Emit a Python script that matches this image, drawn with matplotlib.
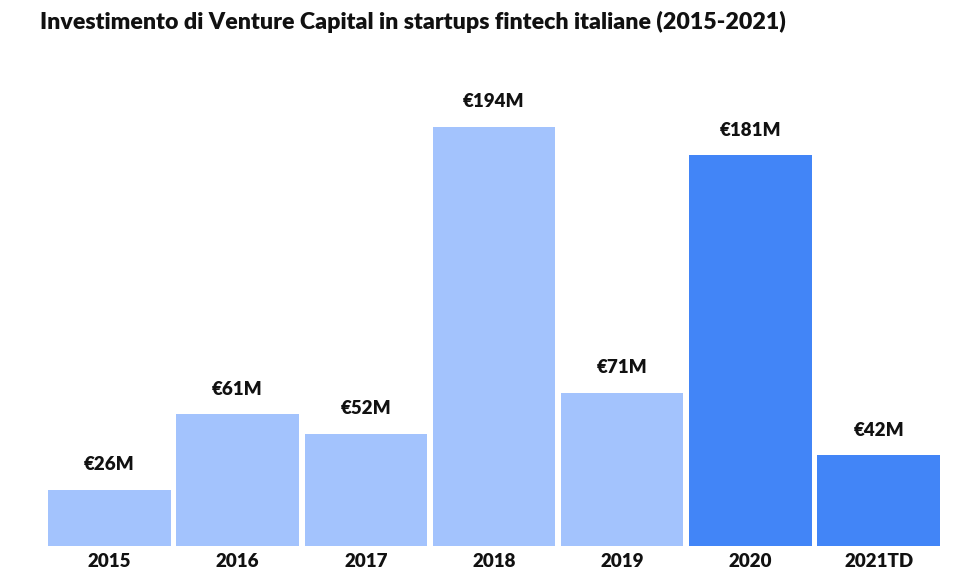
import matplotlib.pyplot as plt

anni = ["2015", "2016", "2017", "2018", "2019", "2020", "2021TD"]
valori = [26, 61, 52, 194, 71, 181, 42]
etichette = ["€26M", "€61M", "€52M", "€194M", "€71M", "€181M", "€42M"]
colori = ["#a3c3fd"] * 5 + ["#4285f7"] * 2

plt.rcParams["font.family"] = ["Lato", "DejaVu Sans"]
plt.rcParams["font.weight"] = "bold"

fig = plt.figure(figsize=(9.6, 5.82), dpi=100)
ax = fig.add_axes([48 / 960, 1 - 546 / 582, 892 / 960, 486 / 582])

x = range(len(anni))
ax.bar(x, valori, width=0.955, color=colori)
for i, v in enumerate(valori):
    ax.annotate(etichette[i], (i, v), xytext=(0, 25), textcoords="offset pixels",
                ha="center", va="center", fontsize=13.5, fontweight="heavy", color="#111111")

ax.set_xlim(-0.478, 6.478)
ax.set_ylim(0, 225)
ax.set_xticks(list(x))
ax.set_xticklabels(anni, fontsize=13.5, fontweight="heavy", color="#111111")
ax.tick_params(axis="x", length=0, pad=5)
ax.set_yticks([])
for s in ax.spines.values():
    s.set_visible(False)

fig.text(40 / 960, 1 - 22 / 582, "Investimento di Venture Capital in startups fintech italiane (2015-2021)",
         ha="left", va="center", fontsize=16.7, fontweight="heavy", color="#111111")

fig.savefig("out.png", dpi=100)
